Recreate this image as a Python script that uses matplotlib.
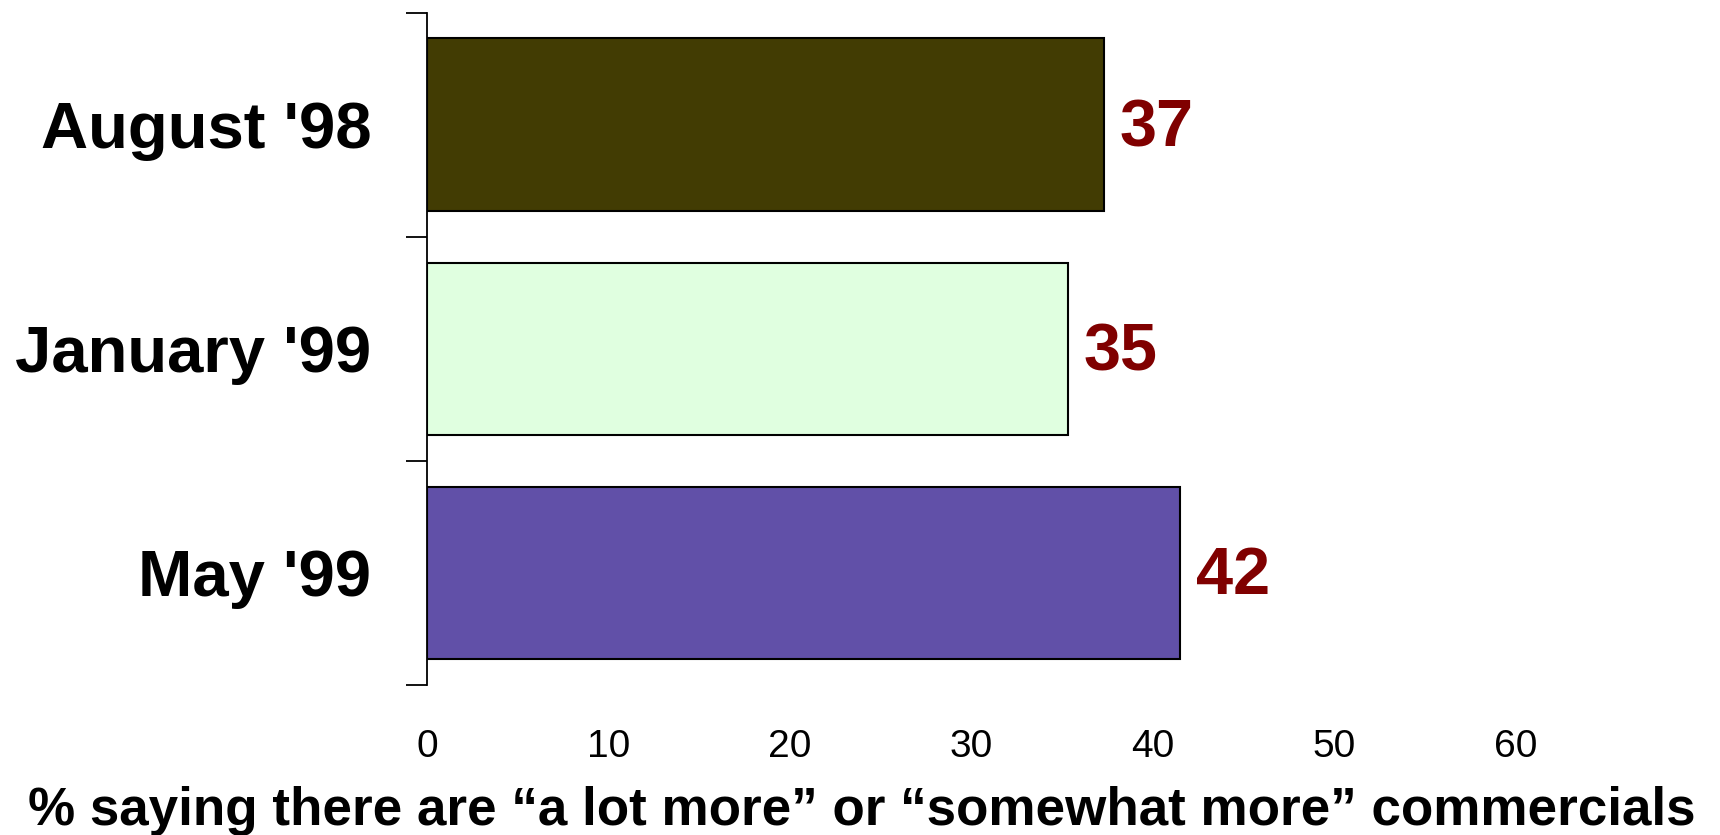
import matplotlib
matplotlib.use("Agg")
import matplotlib.pyplot as plt
from matplotlib.ticker import FixedLocator

categories = ["August '98", "January '99", "May '99"]
values = [37.3, 35.3, 41.5]
value_labels = ["37", "35", "42"]
colors = ["#423C03", "#E0FFE0", "#6150A8"]
xticks = [0, 10, 20, 30, 40, 50, 60]
xlabel = "% saying there are \u201ca lot more\u201d or \u201csomewhat more\u201d commercials"

plt.rcParams['font.family'] = ['Liberation Sans', 'DejaVu Sans']

fig = plt.figure(figsize=(17.2, 8.35), dpi=100)
ax = fig.add_axes([427/1720, 150/835, 70*18.15/1720, (685-12.7)/835])

ypos = list(range(len(categories)))
ax.barh(ypos, values, height=0.77, color=colors, edgecolor='black', linewidth=1.5)
for y, v, lab in zip(ypos, values, value_labels):
    ax.text(v + 0.85, y + 0.02, lab, va='center', ha='left', fontsize=48,
            fontweight='bold', color='#800000')

ax.set_xlim(0, 70)
ax.set_ylim(2.5, -0.5)
ax.set_yticks(ypos)
ax.set_yticklabels(categories, fontsize=47, fontweight='bold')
ax.yaxis.set_minor_locator(FixedLocator([-0.5, 0.5, 1.5, 2.5]))
ax.tick_params(axis='y', which='major', length=0, pad=40)
ax.tick_params(axis='y', which='minor', length=15, width=1.3, direction='out')
ax.set_xticks(xticks)
ax.set_xticklabels([str(t) for t in xticks], fontsize=28)
ax.tick_params(axis='x', length=0, pad=32)
for s in ['top', 'right', 'bottom']:
    ax.spines[s].set_visible(False)
ax.spines['left'].set_linewidth(1.3)

fig.text(0.501, (835-811)/835, xlabel, ha='center', va='center',
         fontsize=38.2, fontweight='bold')

fig.savefig("out.png", dpi=100)
